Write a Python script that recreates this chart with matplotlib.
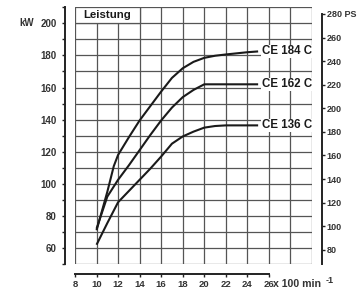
import matplotlib
matplotlib.use('Agg')
import matplotlib.pyplot as plt
from matplotlib.ticker import MultipleLocator, FixedLocator

plt.rcParams['font.family'] = ['Liberation Sans', 'DejaVu Sans']
plt.rcParams['font.weight'] = 'bold'

# Data: engine speed (x 100 min^-1) and power (kW)
rpm_184 = [10, 11, 11.6, 12, 13, 14, 15, 16, 17, 18, 19, 20, 21, 22, 23, 24, 25]
kw_184 = [71, 95, 111, 118, 129, 139.5, 148.5, 157.5, 166, 172, 176, 178.5, 179.8, 180.6, 181.3, 182, 182.5]
rpm_162 = [10, 11, 12, 13, 14, 15, 16, 17, 18, 19, 20, 21, 22, 23, 24, 25]
kw_162 = [72, 92, 102.5, 111.5, 121, 130.5, 139.5, 147.5, 154, 158.5, 162, 162, 162, 162, 162, 162]
rpm_136 = [10, 11, 12, 13, 14, 15, 16, 17, 18, 19, 20, 21, 22, 23, 24, 25]
kw_136 = [62, 75.5, 88.5, 95.5, 102.5, 109.5, 117, 125, 129.5, 132.5, 135, 136, 136.4, 136.4, 136.4, 136.4]
series_names = ['CE 184 C', 'CE 162 C', 'CE 136 C']

kw_ticks = [60, 80, 100, 120, 140, 160, 180, 200]
ps_ticks = [80, 100, 120, 140, 160, 180, 200, 220, 240, 260, 280]
rpm_ticks = [8, 10, 12, 14, 16, 18, 20, 22, 24, 26]
KW_TO_PS = 1.36

W, H = 357, 291
PX = 0.72  # points per pixel at dpi 100
fig = plt.figure(figsize=(W / 100, H / 100), dpi=100)
left, right, top, bottom = 75, 312, 7.3, 264
ax = fig.add_axes([left / W, 1 - bottom / H, (right - left) / W, (bottom - top) / H])
ax.set_xlim(8, 30)
ax.set_ylim(50, 210)

grid_c = '#555555'
for xv in range(8, 31, 2):
    ax.axvline(xv, color=grid_c, lw=0.9, zorder=1)
for yv in range(50, 211, 10):
    ax.axhline(yv, color=grid_c, lw=0.9, zorder=1)

# header box
ax.add_patch(plt.Rectangle((8, 200), 6, 10, facecolor='white', edgecolor=grid_c, lw=0.9, zorder=2))
ax.text(8.75, 205, 'Leistung', fontsize=8.2, fontweight='bold', va='center', ha='left', color='#1a1a1a', zorder=3)

for xs, ys, name in zip([rpm_184, rpm_162, rpm_136], [kw_184, kw_162, kw_136], series_names):
    ax.plot(xs, ys, color='#1a1a1a', lw=1.5, zorder=4, solid_capstyle='butt')
    ax.annotate(name, xy=(xs[-1], ys[-1]), xytext=(2.5, 0), textcoords='offset points',
                fontsize=8.3, fontweight='bold', va='center', ha='left', color='#1a1a1a',
                bbox=dict(facecolor='white', edgecolor='none', pad=0.6), zorder=5)

# spines
for s in ['top', 'right']:
    ax.spines[s].set_visible(False)
ax.spines['left'].set_position(('outward', 10 * PX))
ax.spines['left'].set_linewidth(1.4)
ax.spines['left'].set_color('#222222')
ax.spines['bottom'].set_position(('outward', 10 * PX))
ax.spines['bottom'].set_bounds(8, 26)
ax.spines['bottom'].set_linewidth(1.4)
ax.spines['bottom'].set_color('#222222')

ax.yaxis.set_major_locator(FixedLocator(kw_ticks))
ax.yaxis.set_minor_locator(MultipleLocator(10))
ax.tick_params(axis='y', which='both', direction='out', length=2.2, width=1, color='#222222',
               labelsize=7, labelcolor='#333333', pad=4)
ax.xaxis.set_major_locator(FixedLocator(rpm_ticks))
ax.tick_params(axis='x', which='both', direction='out', length=2.2, width=1, color='#222222',
               labelsize=6.8, labelcolor='#333333', pad=2)
ax.set_xticklabels([str(t) for t in rpm_ticks])
ax.set_yticklabels([str(t) for t in kw_ticks])
for lab in ax.get_xticklabels() + ax.get_yticklabels():
    lab.set_fontweight('bold')

ax.annotate('kW', xy=(0, 200), xycoords=('axes fraction', 'data'), xytext=(-35, 0),
            textcoords='offset points', fontsize=7, fontweight='bold', color='#333333',
            va='center', ha='center')
ax.annotate('x 100 min', xy=(26, 0), xycoords=('data', 'axes fraction'),
            xytext=(3, -10 * PX - 3.4), textcoords='offset points', fontsize=7.6, fontweight='bold',
            color='#333333', va='top', ha='left')
ax.annotate('-1', xy=(26, 0), xycoords=('data', 'axes fraction'),
            xytext=(40.8, -10 * PX - 1.2), textcoords='offset points', fontsize=6.5, fontweight='bold',
            color='#333333', va='top', ha='left')

# PS axis
ax2 = ax.twinx()
ax2.set_ylim(50 * KW_TO_PS, 210 * KW_TO_PS)
for s in ['top', 'left', 'bottom']:
    ax2.spines[s].set_visible(False)
ax2.spines['right'].set_position(('outward', 10 * PX))
ax2.spines['right'].set_bounds(50 * KW_TO_PS, 280)
ax2.spines['right'].set_linewidth(1.4)
ax2.spines['right'].set_color('#222222')
ax2.yaxis.set_major_locator(FixedLocator(ps_ticks))
ax2.set_yticklabels([str(t) + (' PS' if t == 280 else '') for t in ps_ticks])
ax2.tick_params(axis='y', direction='out', length=1.8, width=1, color='#222222',
                labelsize=6.5, labelcolor='#333333', pad=1.5)
for lab in ax2.get_yticklabels():
    lab.set_fontweight('bold')

fig.savefig('out.png', dpi=100)
